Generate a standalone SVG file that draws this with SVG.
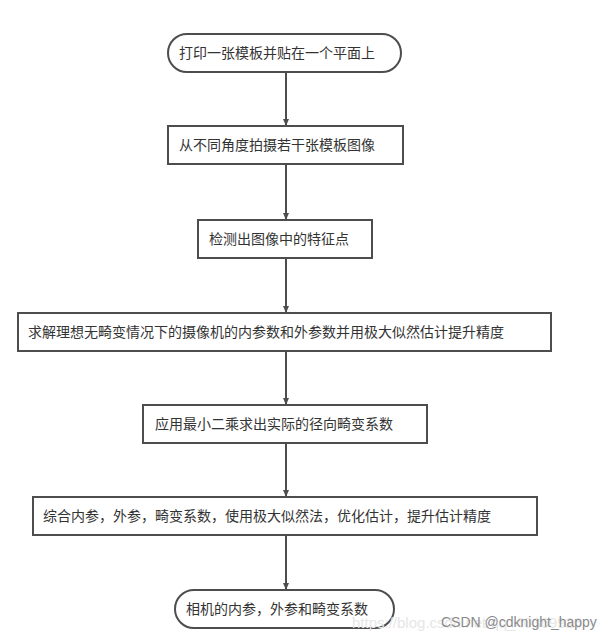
<svg xmlns="http://www.w3.org/2000/svg" width="604" height="641" viewBox="0 0 604 641">
<style>
.n{fill:#fff;stroke:#4d4d4d;stroke-width:2}
.t{font-family:"Noto Sans CJK SC","Noto Sans",sans-serif;font-size:14px;fill:#333}
.c{stroke:#4d4d4d;stroke-width:2;fill:none}
</style>
<defs>
<marker id="a" markerWidth="8" markerHeight="8" refX="6" refY="4" orient="auto" markerUnits="userSpaceOnUse">
<path d="M0,1 L7,4 L0,7 Z" fill="#4d4d4d"/>
</marker>
</defs>
<rect width="604" height="641" fill="#fff"/>
<g id="connectors">
<line class="c" x1="286" y1="72" x2="286" y2="125" marker-end="url(#a)"/>
<line class="c" x1="286" y1="164" x2="286" y2="219" marker-end="url(#a)"/>
<line class="c" x1="286" y1="258" x2="286" y2="312" marker-end="url(#a)"/>
<line class="c" x1="286" y1="351" x2="286" y2="404" marker-end="url(#a)"/>
<line class="c" x1="286" y1="443" x2="286" y2="496" marker-end="url(#a)"/>
<line class="c" x1="286" y1="535" x2="286" y2="589" marker-end="url(#a)"/>
</g>
<g id="n1"><rect class="n" x="168" y="34" width="233" height="38" rx="19"/><text class="t" x="179" y="58">打印一张模板并贴在一个平面上</text></g>
<g id="n2"><rect class="n" x="168" y="126" width="235" height="38"/><text class="t" x="179" y="150">从不同角度拍摄若干张模板图像</text></g>
<g id="n3"><rect class="n" x="198" y="220" width="174" height="38"/><text class="t" x="209" y="244">检测出图像中的特征点</text></g>
<g id="n4"><rect class="n" x="18" y="313" width="533" height="38"/><text class="t" x="28" y="337">求解理想无畸变情况下的摄像机的内参数和外参数并用极大似然估计提升精度</text></g>
<g id="n5"><rect class="n" x="143" y="405" width="284" height="38"/><text class="t" x="155" y="429">应用最小二乘求出实际的径向畸变系数</text></g>
<g id="n6"><rect class="n" x="33" y="497" width="504" height="38"/><text class="t" x="43" y="521">综合内参，外参，畸变系数，使用极大似然法，优化估计，提升估计精度</text></g>
<g id="n7"><rect class="n" x="175" y="590" width="219" height="38" rx="19"/><text class="t" x="186" y="614">相机的内参，外参和畸变系数</text></g>
<text x="352" y="628" font-family="Liberation Sans,sans-serif" font-size="15" fill="#e6e6e6">https://blog.csdn.net/qq_40369926</text>
<text x="441" y="627" font-family="Liberation Sans,sans-serif" font-size="14" fill="#8a8a8a">CSDN @cdknight_happy</text>
</svg>
